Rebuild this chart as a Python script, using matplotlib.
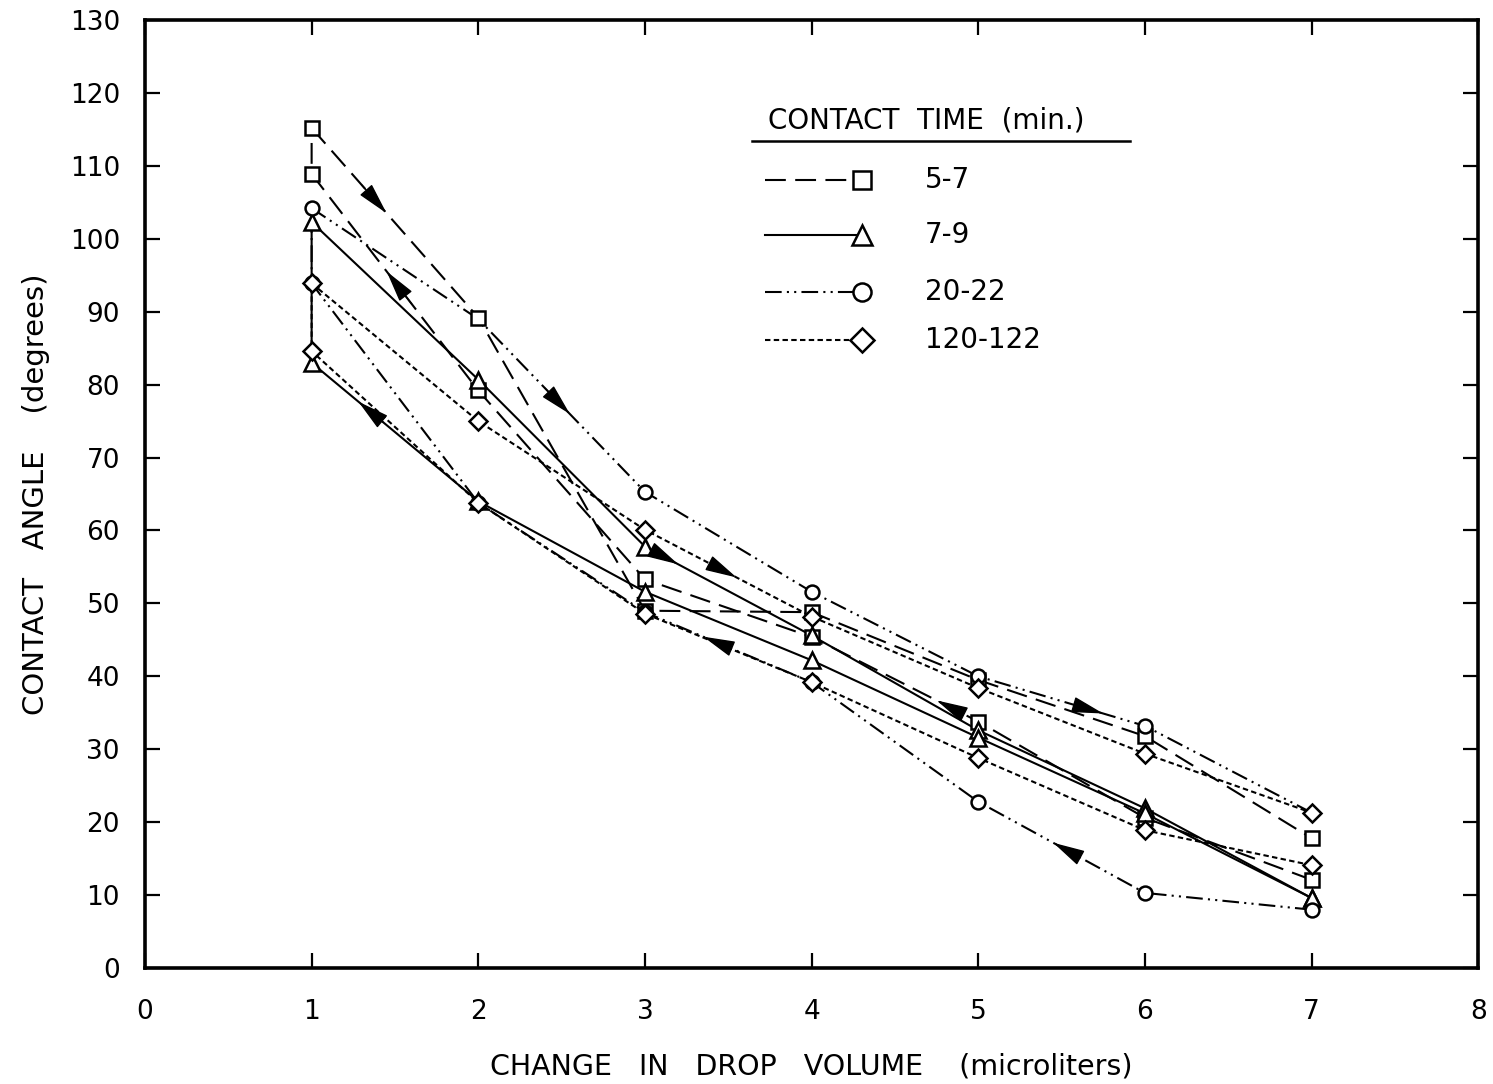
"""Contact angle hysteresis loops vs change in drop volume."""

import matplotlib

matplotlib.use("Agg")
import matplotlib.pyplot as plt

plt.rcParams["font.family"] = ["DejaVu Sans"]

# drop volume change (microliters)
volume = [1, 2, 3, 4, 5, 6, 7]

# contact angle (degrees); "adv" = upper branch, "rec" = lower branch
sq_adv = [115.2, 89.2, 49.0, 48.8, 39.5, 31.8, 17.8]
sq_rec = [108.9, 79.2, 53.3, 45.4, 33.8, 20.6, 12.1]
tri_adv = [102.3, 80.7, 57.8, 45.6, 32.6, 21.9, 9.6]
tri_rec = [83.0, 64.0, 51.6, 42.2, 31.6, 21.2, 9.6]
cir_adv = [104.2, 89.0, 65.3, 51.6, 40.0, 33.2, 21.3]
cir_rec = [93.9, 63.8, 48.8, 39.2, 22.8, 10.3, 8.0]
dia_adv = [93.9, 75.0, 60.1, 48.2, 38.4, 29.4, 21.3]
dia_rec = [84.6, 63.8, 48.6, 39.2, 28.8, 18.9, 14.1]

labels = ["5-7", "7-9", "20-22", "120-122"]

styles = {
    "5-7": dict(dashes=(10, 4.5), marker="s", ms=9.5),
    "7-9": dict(dashes=(None, None), marker="^", ms=11.5),
    "20-22": dict(dashes=(8, 2.5, 1, 2.5, 1, 2.5), marker="o", ms=10),
    "120-122": dict(dashes=(2.6, 1.6), marker="D", ms=9),
}

series = {
    "5-7": (sq_adv, sq_rec, None),
    "7-9": (tri_adv, tri_rec, None),
    "20-22": (cir_adv, cir_rec, [0, 2, 3, 4, 5]),
    "120-122": (dia_adv, dia_rec, None),
}

# arrowheads: (series, branch, segment index along path, fraction)
arrows = [
    ("5-7", "adv", 0, 0.45),
    ("5-7", "rec", 5, 0.55),
    ("5-7", "rec", 2, 0.25),
    ("20-22", "adv", 1, 0.55),
    ("20-22", "adv", 4, 0.75),
    ("20-22", "rec", 1, 0.55),
    ("20-22", "rec", 3, 0.65),
    ("7-9", "adv", 2, 0.2),
    ("7-9", "rec", 5, 0.72),
    ("120-122", "adv", 2, 0.55),
]

LW = 1.5


def branch_path(adv, rec, branch):
    """Return x, y for a branch; the lower branch runs back and closes at x=1."""
    if branch == "adv":
        return list(volume), list(adv)
    xs = list(reversed(volume)) + [volume[0]]
    ys = list(reversed(rec)) + [adv[0]]
    return xs, ys


fig = plt.figure(figsize=(14.93, 10.84), dpi=100)
ax = fig.add_axes([0.0971, 0.107, 0.893, 0.8745])

for name in labels:
    adv, rec, adv_marks = series[name]
    st = styles[name]
    for branch in ("adv", "rec"):
        xs, ys = branch_path(adv, rec, branch)
        ax.plot(xs, ys, color="black", lw=LW, dashes=st["dashes"], zorder=2)
        if branch == "adv":
            idx = adv_marks if adv_marks is not None else list(range(len(xs)))
        else:
            idx = list(range(len(xs) - 1))
        ax.plot([xs[i] for i in idx], [ys[i] for i in idx], linestyle="none",
                marker=st["marker"], ms=st["ms"], mfc="white", mec="black",
                mew=1.8, zorder=3)

for name, branch, seg, frac in arrows:
    adv, rec, _ = series[name]
    xs, ys = branch_path(adv, rec, branch)
    x0, y0, x1, y1 = xs[seg], ys[seg], xs[seg + 1], ys[seg + 1]
    tip = (x0 + frac * (x1 - x0), y0 + frac * (y1 - y0))
    tail = (x0 + (frac - 0.15) * (x1 - x0), y0 + (frac - 0.15) * (y1 - y0))
    ax.annotate("", xy=tip, xytext=tail, zorder=4,
                arrowprops=dict(arrowstyle="-|>,head_length=2.0,head_width=0.5",
                                color="black", lw=1.0, shrinkA=0, shrinkB=0))

ax.set_xlim(0, 8)
ax.set_ylim(0, 130)
ax.set_xticks(range(0, 9))
ax.set_yticks(range(0, 131, 10))
ax.tick_params(direction="in", length=11, width=1.6, top=True, right=True,
               labelsize=19, pad=18)
ax.tick_params(axis="x", pad=22)
for spine in ax.spines.values():
    spine.set_linewidth(2.6)

ax.set_xlabel("CHANGE   IN   DROP   VOLUME    (microliters)", fontsize=20.5, labelpad=20)
ax.set_ylabel("CONTACT   ANGLE    (degrees)", fontsize=21, labelpad=14)

# hand-drawn style legend
t = ax.transAxes
ax.text(0.467, 0.894, "CONTACT  TIME  (min.)", transform=t, fontsize=20,
        ha="left", va="center")
ax.plot([0.455, 0.739], [0.872, 0.872], transform=t, color="black", lw=1.8)
for name, yk in zip(labels, [0.831, 0.773, 0.713, 0.662]):
    st = styles[name]
    ax.plot([0.465, 0.536], [yk, yk], transform=t, color="black", lw=LW,
            dashes=st["dashes"])
    ax.plot([0.538], [yk], transform=t, marker=st["marker"], ms=st["ms"] + 3,
            mfc="white", mec="black", mew=1.8, linestyle="none")
    ax.text(0.585, yk, name, transform=t, fontsize=20, ha="left", va="center")

fig.savefig("out.png", dpi=100)
